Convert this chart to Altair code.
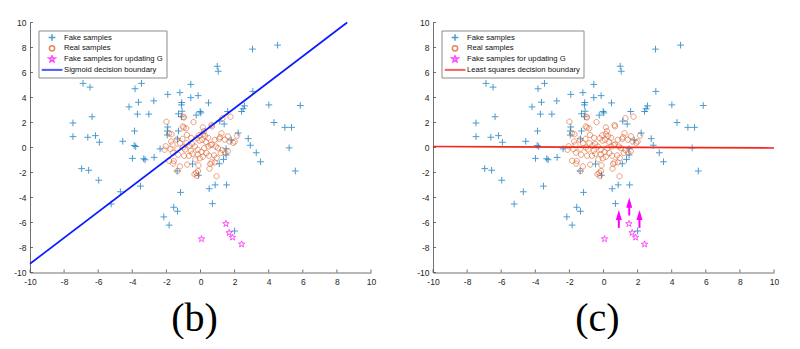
import altair as alt
import pandas as pd

FAKE = "Fake samples"
REAL = "Real samples"
STAR = "Fake samples for updating G"
LINE_B = "Sigmoid decision boundary"
LINE_C = "Least squares decision boundary"

fake_x = [3.05, 4.52, 0.98, 1.04, 3.07, -0.57, -6.89, -6.48, -3.84, -3.46, -3.7,
          -1.21, -1.92, -1.1, -1.12, -0.57, -0.14, 0.47, -2.74, -3.64, -4.19, -3.03, -3.70, -6.36,
          -7.48, -7.48, -6.61, -6.16, -5.93, -4.56, -3.87, -3.89, -3.8, -3.99, -3.33, -3.25, -2.72, -2.37,
          -6.97, -6.56, -5.97, -4.70, -3.52, -5.24, -1.17, -1.57, -1.35, -2.15, -1.84,
          0.70, 0.51, 0.86, 1.53, 2.0,
          1.59, 2.41, 2.58, 2.5, 4.01, 5.85, 4.31, 4.95, 5.34, 2.8, 2.92, 5.2, 3.27, 3.52, 5.56, 2.21,
          1.13, -0.02, -0.25, 0.02, -1.08, -1.12,
          -1.92, -1.95, -1.29, -1.35, -0.47, -1.37, -0.12, 1.35, 1.5, 1.8, 1.5, 1.1, -1.95, -1.29, 1.39]
fake_y = [7.87, 8.19, 6.5, 6.1, 4.49, 5.05, 5.13, 4.83, 4.70, 5.13, 5.8,
          4.39, 4.25, 3.6, 3.41, 3.99, 4.15, 3.57, 3.73, 3.62, 3.25, 2.67, 2.67, 2.46,
          1.96, 0.87, 0.82, 0.95, 0.42, 0.50, 1.32, 0.16, 0.08, -0.87, -0.9, -0.98, -0.79, -0.11,
          -1.69, -1.82, -2.62, -3.54, -3.09, -4.52, -3.59, -4.78, -5.10, -5.55, -6.21,
          -4.49, -3.30, -2.99, -2.99, -6.68,
          2.88, 2.88, 3.33, 3.1, 3.41, 3.36, 2.0, 1.61, 1.61, 0.71, 0.18, -0.03, -0.42, -1.14, -1.88, 1.16,
          2.11, 2.88, 2.59, 2.77, 2.9, 2.46,
          1.64, 1.32, 1.32, 0.69, -1.32, -1.88, -2.22, -0.95, -0.1, 0.6, -0.6, -1.3, 1.0, 2.7, 1.88]

real_x = [-2.0, -1.0, -0.97, -0.41, 1.29, 1.76, 0.65, 0.67, -1.04, -0.98, -1.84, -1.7, -0.84, -0.8,
          -0.55, -0.08, 0.14, 0.27, -0.22, 0.1, 0.45, 1.23, 1.15, 1.1, 0.84, 1.6, 2.15, 2.0, 1.92,
          1.7, 1.43, -1.06, -1.39, -1.72, -2.04, -1.64, -1.76, -2.11, -1.62, -1.35, -1.02, -0.9,
          -0.82, -0.49, -0.33, -0.16, 0.22, 0.47, 0.67, 0.9, 1.02, 1.29, 1.45, 1.19, 0.8, 0.51,
          0.14, -0.16, -0.47, -0.68, -0.96, -1.31, -1.57, -1.84, -1.6, -1.21, -0.78, -0.12, 0.57,
          0.65, 0.84, 0.53, -0.35, -0.22, -0.14, -0.25, 0.94, -1.35, -0.04, -0.06, 0.14, 0.6,
          -0.57, 0.32, -0.3, 0.05, 0.95, -1.2, 0.35, 1.6, -0.65, 0.2]
real_y = [2.06, 2.46, 2.4, 2.03, 2.35, 2.46, 1.8, 1.69, 1.69, 1.59, 1.11, 1.06, 1.53, 1.0,
          0.77, 0.98, 1.06, 0.92, 0.74, 0.61, 0.77, 1.14, 0.82, 0.69, 0.61, 0.9, 0.95, 0.48, 0.37,
          0.48, 0.63, 0.69, 0.63, 0.48, 0.1, 0.24, -0.13, -0.18, -0.42, -0.1, 0.0, -0.16,
          0.34, 0.29, 0.08, -0.18, -0.05, 0.08, 0.24, 0.08, -0.05, -0.21, -0.42, -0.45, -0.63, -0.66,
          -0.74, -0.55, -0.5, -0.66, -0.66, -0.58, -1.08, -1.06, -1.29, -1.51, -1.37, -1.43, -1.32,
          -1.19, -1.19, -1.69, -2.14, -2.27, -1.88, -2.03, -2.30, -1.88, -0.87, 0.55, 1.61, 0.2,
          -0.26, 0.45, -0.95, -0.35, -0.85, 0.35, -0.45, -0.3, 0.15, 1.3]

star_x = [0.06, 1.49, 1.68, 1.88, 2.41]
star_y = [-7.32, -6.1, -6.82, -7.19, -7.74]

arrow_x = [0.90, 1.51, 2.11]
arrow_base = [-6.43, -5.44, -6.43]
arrow_tip = [-4.99, -4.02, -4.99]

lineB_x = [-10, 8.6]
lineB_y = [-9.3, 10]
lineC_x = [-10, 10]
lineC_y = [0.08, -0.04]

ticks = [-10, -8, -6, -4, -2, 0, 2, 4, 6, 8, 10]

# marker outlines, drawn at symbol size 100 (10 px unit box)
PLUS = "M-0.67,0L0.67,0M0,-0.67L0,0.67"
CIRCLE = "M0.53,0A0.53,0.53,0,1,1,-0.53,0A0.53,0.53,0,1,1,0.53,0Z"
STAR_PATH = ("M0,-0.68L0.153,-0.21L0.647,-0.21L0.247,0.08L0.4,0.55L0,0.26"
             "L-0.4,0.55L-0.247,0.08L-0.647,-0.21L-0.153,-0.21Z")
LINE_PATH = "M-1.95,-0.06L1.95,-0.06L1.95,0.06L-1.95,0.06Z"
HEAD_PATH = "M0,-1L0.6,1L-0.6,1Z"

W, H = 341, 250
AXC = "#262626"


def panel(line_label, lx, ly, line_color, label, arrows):
    pts = pd.DataFrame({
        "x": fake_x + real_x + star_x,
        "y": fake_y + real_y + star_y,
        "series": [FAKE] * len(fake_x) + [REAL] * len(real_x) + [STAR] * len(star_x),
    })
    domain = [FAKE, REAL, STAR, line_label]
    xs = alt.Scale(domain=[-10, 10], nice=False, zero=False)
    ys = alt.Scale(domain=[-10, 10], nice=False, zero=False)
    xaxis = alt.Axis(values=ticks, ticks=False, grid=False, domainColor="#4d4d4d", domainWidth=0.8,
                     labelFont="Liberation Sans", labelFontSize=8.5, labelColor=AXC, labelPadding=5,
                     labelFlush=False, labelExpr="toString(datum.value)",
                     title=label, titleFont="Liberation Serif", titleFontSize=40,
                     titleFontWeight="normal", titleColor="black", titleX=164, titleY=58,
                     titleBaseline="alphabetic", titleAlign="center")
    yaxis = alt.Axis(values=ticks, ticks=False, grid=False, domainColor="#4d4d4d", domainWidth=0.8,
                     labelFont="Liberation Sans", labelFontSize=8.5, labelColor=AXC, labelPadding=4,
                     labelFlush=False, labelExpr="toString(datum.value)", title=None)
    X = lambda f: alt.X(f, scale=xs, axis=xaxis)
    Y = lambda f: alt.Y(f, scale=ys, axis=yaxis)
    legend = alt.Legend(
        title=None, orient="none", legendX=8.5, legendY=8, padding=3, symbolOffset=4.5,
        labelOffset=6, rowPadding=2.8, clipHeight=8, symbolSize=100,
        labelFontSize=7.7, labelFont="Liberation Sans",
        labelColor="#111111", strokeColor="#8c8c8c", fillColor="white",
    )
    color = alt.Color("series:N", scale=alt.Scale(domain=domain,
                      range=["#0072BD", "#D95319", "#FF00FF", line_color]), legend=legend)
    shape = alt.Shape("series:N", scale=alt.Scale(domain=domain,
                      range=[PLUS, CIRCLE, STAR_PATH, LINE_PATH]), legend=legend)

    base = alt.Chart(pts)
    fake_l = base.transform_filter(alt.datum.series == FAKE).mark_point(
        filled=False, size=100, strokeWidth=1).encode(
        x=X("x:Q"), y=Y("y:Q"), color=color, shape=shape)
    real_l = base.transform_filter(alt.datum.series == REAL).mark_point(
        filled=False, size=100, strokeWidth=0.8).encode(
        x=X("x:Q"), y=Y("y:Q"), color=color, shape=shape)
    star_l = base.transform_filter(alt.datum.series == STAR).mark_point(
        filled=False, size=100, strokeWidth=1).encode(
        x=X("x:Q"), y=Y("y:Q"), color=color, shape=shape)

    line = alt.Chart(pd.DataFrame({"x": lx, "y": ly})).mark_line(
        strokeWidth=1.7, color=line_color).encode(x=X("x:Q"), y=Y("y:Q"))

    tdf = pd.DataFrame({"t": ticks})
    ytk = alt.Chart(tdf).mark_rule(color="#4d4d4d", strokeWidth=0.8).encode(
        y=Y("t:Q"), x=alt.value(0), x2=alt.value(3))
    xtk = alt.Chart(tdf).mark_rule(color="#4d4d4d", strokeWidth=0.8).encode(
        x=X("t:Q"), y=alt.value(H), y2=alt.value(H - 3))

    layers = [fake_l, real_l, star_l, line]
    if arrows:
        adf = pd.DataFrame({"x": arrow_x, "y0": arrow_base, "y1": arrow_tip})
        shaft = alt.Chart(adf).mark_rule(color="#FF00FF", strokeWidth=2, y2Offset=4).encode(
            x=X("x:Q"), y=Y("y0:Q"), y2="y1:Q")
        head = alt.Chart(adf).mark_point(shape=HEAD_PATH, filled=True, size=100, opacity=1,
                                         color="#FF00FF", yOffset=5).encode(x=X("x:Q"), y=Y("y1:Q"))
        layers += [shaft, head]
    layers += [ytk, xtk]
    return alt.layer(*layers).properties(width=W, height=H)


pb = panel(LINE_B, lineB_x, lineB_y, "#0a1cff", "(b)", False)
pc = panel(LINE_C, lineC_x, lineC_y, "#f0281e", "(c)", True)

chart = alt.hconcat(pb, pc, spacing=40).resolve_scale(
    color="independent", shape="independent").resolve_legend(
    color="independent", shape="independent").properties(
    padding={"left": 13, "top": 18.5, "right": 5, "bottom": 0}).configure_view(
    stroke=None)

chart.save("out.html", embed_options={"renderer": "svg", "actions": False})
